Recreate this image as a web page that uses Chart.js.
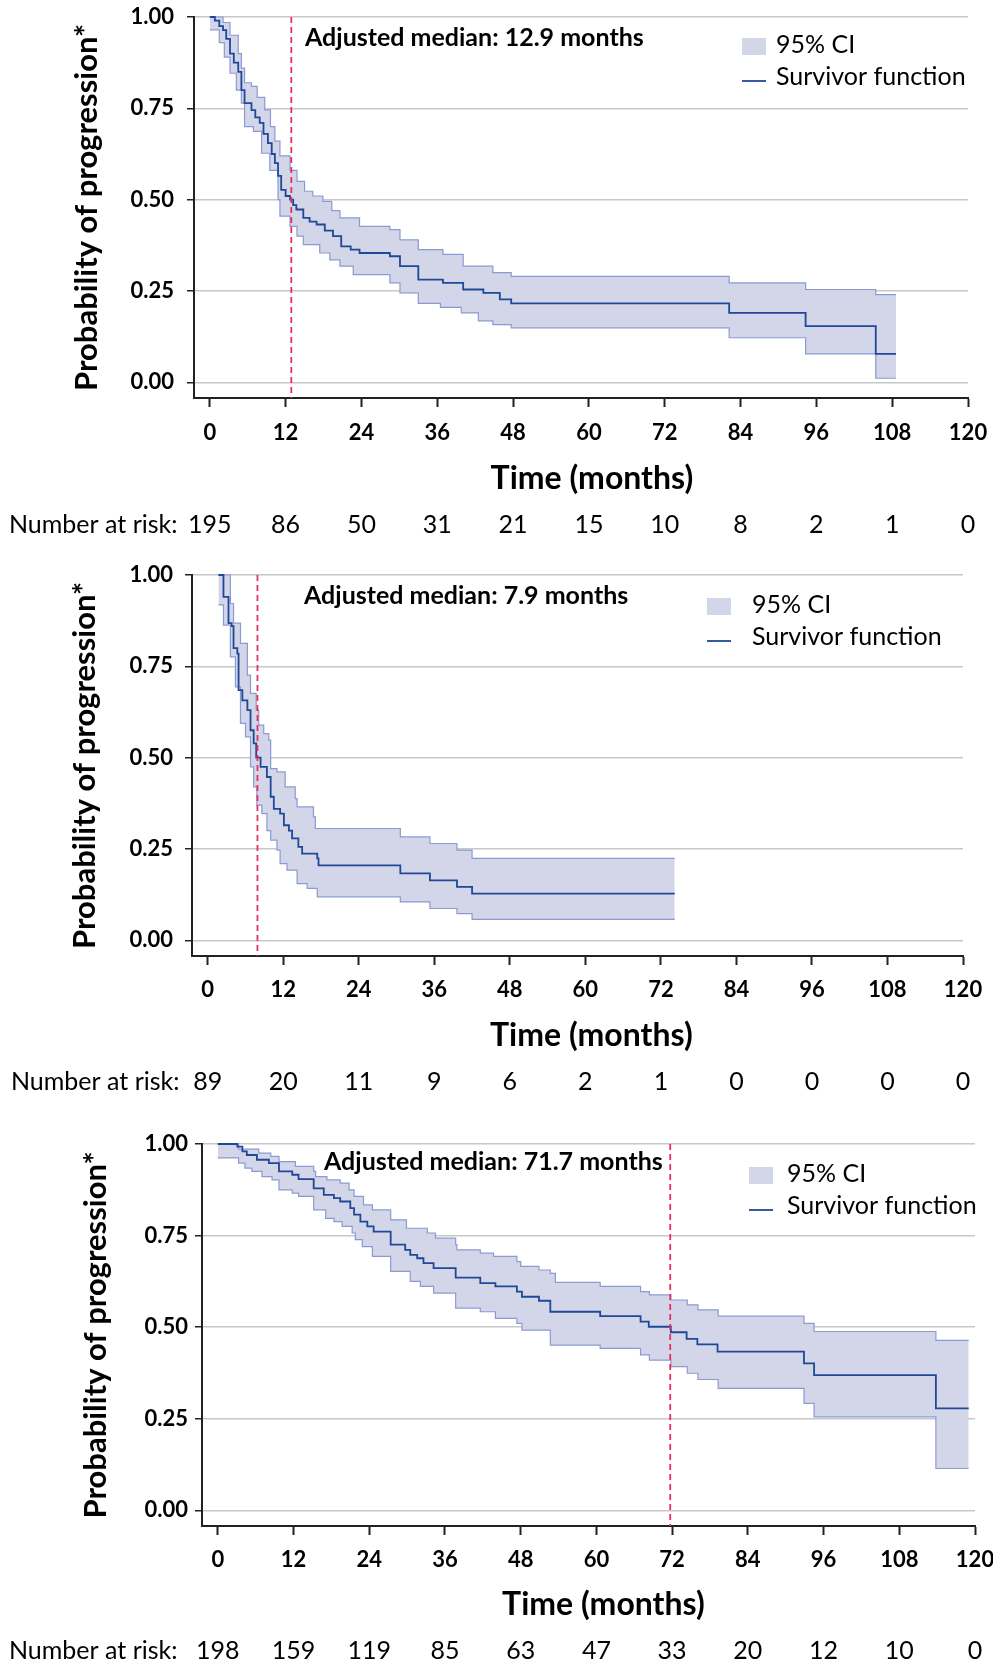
<!DOCTYPE html>
<html lang="en">
  <head>
    <meta charset="utf-8" />
    <title>Probability of progression - Kaplan-Meier</title>
    <style>
      * {
        margin: 0;
        padding: 0;
      }
      body {
        width: 993px;
        height: 1667px;
        background: #fff;
        position: relative;
        overflow: hidden;
      }
      canvas {
        position: absolute;
        left: 0;
        display: block;
      }
    </style>
  </head>
  <body>
    <canvas id="chartA" width="993" height="556" style="top: 0px"></canvas>
    <canvas id="chartB" width="993" height="556" style="top: 556px"></canvas>
    <canvas id="chartC" width="993" height="555" style="top: 1112px"></canvas>

    <script src="https://cdn.jsdelivr.net/npm/chart.js@4/dist/chart.umd.min.js"></script>

    <script>
      // axis ticks
      const timeTicks = [0, 12, 24, 36, 48, 60, 72, 84, 96, 108, 120];
      const probTicks = [0, 0.25, 0.5, 0.75, 1];

      // panel A: [months, probability] at each step
      const survA = [
        [0, 1.0], [0.8, 0.99], [1.5, 0.975], [2.1, 0.964], [2.6, 0.94], [3.2, 0.9], [3.8, 0.875],
        [4.5, 0.85], [5.0, 0.8], [5.5, 0.764], [6.6, 0.745], [7.2, 0.725], [7.9, 0.71], [8.5, 0.68],
        [9.2, 0.655], [9.8, 0.625], [10.3, 0.6], [10.8, 0.565], [11.3, 0.527], [12.0, 0.51],
        [12.7, 0.5], [13.2, 0.485], [13.7, 0.473], [14.8, 0.45], [15.8, 0.44], [16.9, 0.432],
        [18.2, 0.415], [19.5, 0.4], [20.8, 0.372], [22.3, 0.363], [23.7, 0.354], [28.5, 0.345],
        [30.1, 0.318], [33.0, 0.281], [36.9, 0.272], [40.1, 0.254], [43.3, 0.245], [45.9, 0.227],
        [47.7, 0.216], [82.2, 0.19], [94.3, 0.154], [105.4, 0.078], [108.6, 0.078],
      ];
      const upperA = [
        [0, 1.0], [2.1, 0.985], [3.2, 0.95], [4.5, 0.9], [5.0, 0.86], [5.5, 0.82], [6.6, 0.81],
        [7.5, 0.78], [8.7, 0.746], [9.6, 0.7], [10.3, 0.66], [11.1, 0.62], [12.7, 0.58],
        [13.8, 0.55], [15.0, 0.523], [16.3, 0.51], [17.9, 0.495], [19.3, 0.47], [20.6, 0.45],
        [23.7, 0.427], [28.5, 0.418], [30.1, 0.39], [33.0, 0.363], [36.9, 0.35], [40.1, 0.318],
        [44.8, 0.3], [47.7, 0.29], [82.2, 0.272], [94.3, 0.254], [105.4, 0.24], [108.6, 0.24],
      ];
      const lowerA = [
        [0, 0.965], [1.5, 0.93], [2.3, 0.89], [3.2, 0.846], [4.2, 0.8], [5.0, 0.764], [5.5, 0.7],
        [6.9, 0.687], [8.2, 0.627], [9.5, 0.58], [10.8, 0.5], [11.1, 0.455], [12.7, 0.427],
        [13.8, 0.4], [14.8, 0.377], [17.4, 0.354], [19.0, 0.335], [20.6, 0.318], [22.7, 0.295],
        [28.5, 0.272], [30.1, 0.245], [33.0, 0.216], [36.5, 0.205], [39.8, 0.19], [42.5, 0.168],
        [44.8, 0.158], [47.7, 0.149], [82.2, 0.122], [94.3, 0.078], [105.4, 0.011], [108.6, 0.011],
      ];
      const riskA = [195, 86, 50, 31, 21, 15, 10, 8, 2, 1, 0];
      const medianA = 12.9;

      // panel B
      const survB = [
        [1.7, 1.0], [2.5, 0.94], [3.3, 0.868], [3.8, 0.86], [4.1, 0.8], [4.7, 0.785], [4.9, 0.685],
        [5.5, 0.657], [6.3, 0.63], [6.8, 0.575], [7.3, 0.539], [7.7, 0.5], [8.4, 0.475],
        [9.4, 0.447], [10.0, 0.393], [10.5, 0.36], [11.5, 0.347], [12.1, 0.315], [12.9, 0.3],
        [13.4, 0.279], [14.4, 0.256], [15.0, 0.237], [17.4, 0.224], [17.6, 0.205], [30.6, 0.183],
        [35.3, 0.164], [39.6, 0.146], [42.0, 0.128], [74.2, 0.128],
      ];
      const upperB = [
        [1.7, 1.0], [3.6, 0.922], [4.1, 0.868], [5.2, 0.813], [6.3, 0.726], [6.8, 0.676],
        [7.7, 0.63], [8.1, 0.589], [8.9, 0.566], [9.7, 0.548], [10.0, 0.47], [11.0, 0.461],
        [12.3, 0.42], [13.9, 0.388], [14.2, 0.365], [16.8, 0.338], [17.1, 0.306], [30.6, 0.283],
        [35.3, 0.265], [39.6, 0.247], [42.0, 0.224], [74.2, 0.224],
      ];
      const lowerB = [
        [1.7, 0.918], [2.5, 0.863], [3.6, 0.776], [4.4, 0.694], [5.2, 0.594], [6.0, 0.557],
        [6.8, 0.475], [7.3, 0.42], [7.8, 0.37], [8.6, 0.347], [9.4, 0.3], [10.0, 0.274],
        [11.0, 0.247], [11.5, 0.21], [12.6, 0.192], [14.2, 0.155], [15.8, 0.142], [17.4, 0.119],
        [30.6, 0.105], [35.3, 0.087], [39.6, 0.073], [42.0, 0.057], [74.2, 0.057],
      ];
      const riskB = [89, 20, 11, 9, 6, 2, 1, 0, 0, 0, 0];
      const medianB = 7.9;

      // panel C
      const survC = [
        [0, 1.0], [3.1, 0.993], [3.9, 0.98], [4.6, 0.97], [6.2, 0.957], [8.1, 0.948], [9.7, 0.925],
        [11.8, 0.916], [12.8, 0.904], [15.2, 0.879], [16.8, 0.861], [18.4, 0.852], [19.4, 0.843],
        [21.0, 0.825], [21.6, 0.807], [22.6, 0.788], [23.7, 0.775], [24.7, 0.761], [27.4, 0.725],
        [29.7, 0.711], [30.5, 0.697], [31.6, 0.688], [32.6, 0.675], [34.2, 0.661], [37.7, 0.635],
        [41.6, 0.62], [44.0, 0.611], [47.4, 0.597], [48.2, 0.583], [50.9, 0.572], [52.7, 0.542],
        [60.6, 0.53], [67.0, 0.515], [68.3, 0.501], [71.8, 0.486], [74.3, 0.468], [76.0, 0.453],
        [79.2, 0.433], [92.9, 0.401], [94.5, 0.369], [113.8, 0.278], [119.0, 0.278],
      ];
      const upperC = [
        [0, 1.0], [3.3, 0.986], [6.5, 0.975], [8.4, 0.966], [9.7, 0.952], [12.3, 0.939],
        [15.2, 0.925], [15.5, 0.911], [17.3, 0.902], [19.4, 0.893], [20.8, 0.875], [21.6, 0.857],
        [23.1, 0.834], [24.5, 0.82], [27.4, 0.793], [29.9, 0.77], [33.2, 0.757], [34.5, 0.743],
        [37.7, 0.725], [37.9, 0.711], [41.6, 0.702], [43.7, 0.693], [47.4, 0.679], [48.0, 0.666],
        [50.9, 0.656], [52.7, 0.647], [53.5, 0.622], [60.6, 0.611], [67.0, 0.597], [68.4, 0.588],
        [71.8, 0.574], [74.4, 0.561], [76.1, 0.547], [79.3, 0.53], [92.9, 0.51], [94.5, 0.488],
        [113.8, 0.464], [119.0, 0.464],
      ];
      const lowerC = [
        [0, 0.962], [3.3, 0.948], [4.3, 0.934], [5.4, 0.925], [7.0, 0.911], [8.6, 0.902],
        [9.7, 0.875], [11.8, 0.866], [12.8, 0.857], [15.2, 0.82], [17.1, 0.797], [18.4, 0.788],
        [19.7, 0.775], [21.3, 0.757], [21.8, 0.739], [22.9, 0.72], [24.5, 0.693], [27.4, 0.652],
        [30.5, 0.625], [32.1, 0.611], [34.2, 0.593], [37.7, 0.552], [41.6, 0.542], [44.0, 0.524],
        [47.4, 0.51], [48.2, 0.492], [52.7, 0.451], [60.6, 0.442], [67.0, 0.424], [68.4, 0.41],
        [71.8, 0.392], [74.4, 0.374], [76.1, 0.357], [79.3, 0.333], [92.9, 0.292], [94.5, 0.255],
        [113.8, 0.114], [119.0, 0.114],
      ];
      const riskC = [198, 159, 119, 85, 63, 47, 33, 20, 12, 10, 0];
      const medianC = 71.7;

      // colours and fonts
      const bandFill = "rgb(211, 214, 233)";
      const bandLine = "rgb(140, 154, 210)";
      const survLine = "rgb(31, 72, 152)";
      const medianColor = "rgb(232, 45, 95)";
      const FONT = "Lato";
      const tickFont = { family: FONT, weight: "bold", size: 22 };
      const yTitleFont = { family: FONT, weight: "bold", size: 31 };
      const xTitleSize = 32;
      const textSize = 25;

      const toXY = (pts) => pts.map(([x, y]) => ({ x, y }));

      // median line, x title, note, legend and number-at-risk row
      const kmExtras = (p) => ({
        id: "kmExtras",
        afterDatasetsDraw(chart) {
          const { ctx, chartArea, scales } = chart;
          const px = scales.x.getPixelForValue(p.median);
          ctx.save();
          ctx.strokeStyle = medianColor;
          ctx.lineWidth = 1.8;
          ctx.setLineDash([6, 4]);
          ctx.beginPath();
          ctx.moveTo(px, chartArea.top);
          ctx.lineTo(px, chartArea.bottom);
          ctx.stroke();
          ctx.restore();
        },
        afterDraw(chart) {
          const { ctx, chartArea, scales } = chart;
          const lg = p.legend;
          ctx.save();
          ctx.textBaseline = "middle";
          ctx.fillStyle = "#000";

          // x axis title, centred on the 0-120 tick range
          ctx.textAlign = "center";
          ctx.font = `bold ${xTitleSize}px ${FONT}`;
          ctx.fillText(
            "Time (months)",
            scales.x.getPixelForValue(60) + p.xTitleShift,
            chartArea.bottom + p.xTitleGap
          );

          ctx.textAlign = "left";
          ctx.font = `bold ${textSize}px ${FONT}`;
          ctx.fillText(`Adjusted median: ${p.median} months`, p.noteX, p.noteY);

          ctx.fillStyle = bandFill;
          ctx.fillRect(lg.x, lg.y, 24, 17);
          ctx.strokeStyle = survLine;
          ctx.lineWidth = 1.8;
          ctx.beginPath();
          ctx.moveTo(lg.x, lg.y + 43);
          ctx.lineTo(lg.x + 24, lg.y + 43);
          ctx.stroke();
          ctx.fillStyle = "#000";
          ctx.font = `${textSize}px ${FONT}`;
          ctx.fillText("95% CI", lg.textX, lg.y + 7);
          ctx.fillText("Survivor function", lg.textX, lg.y + 39);

          ctx.fillText("Number at risk:", p.riskX, p.riskY);
          ctx.textAlign = "center";
          p.risk.forEach((n, i) => {
            ctx.fillText(String(n), scales.x.getPixelForValue(timeTicks[i]), p.riskY);
          });
          ctx.restore();
        },
      });

      const makeChart = (id, p) => {
        const H = p.height;

        // survivor line first so it is drawn on top of the band
        const data = {
          datasets: [
            {
              data: toXY(p.surv),
              borderColor: survLine,
              borderWidth: 1.8,
              fill: false,
            },
            {
              data: toXY(p.upper),
              borderColor: bandLine,
              borderWidth: 1.2,
              fill: false,
            },
            {
              data: toXY(p.lower),
              borderColor: bandLine,
              borderWidth: 1.2,
              backgroundColor: bandFill,
              fill: "-1",
            },
          ],
        };

        const config = {
          type: "line",
          data: data,
          options: {
            responsive: false,
            animation: false,
            events: [],
            clip: false,
            elements: {
              point: { radius: 0 },
              line: { stepped: "before", tension: 0 },
            },
            layout: {
              padding: { left: 0, top: p.area.top, right: 993 - p.area.right, bottom: 0 },
            },
            plugins: {
              legend: { display: false },
              tooltip: { enabled: false },
            },
            scales: {
              x: {
                type: "linear",
                min: -2.5,
                max: 120,
                afterBuildTicks: (s) => {
                  s.ticks = timeTicks.map((v) => ({ value: v }));
                },
                afterFit: (s) => {
                  s.height = H - p.area.bottom;
                  s.paddingLeft = 0;
                  s.paddingRight = 0;
                },
                border: { color: "#222", width: 2 },
                grid: {
                  drawOnChartArea: false,
                  drawTicks: true,
                  tickLength: 9,
                  tickColor: "#222",
                  tickWidth: 2,
                },
                ticks: {
                  font: tickFont,
                  color: "#000",
                  padding: p.xTickGap - 9 - (tickFont.size * 1.2) / 2,
                  maxRotation: 0,
                  autoSkip: false,
                },
              },
              y: {
                min: -0.043,
                max: 1,
                afterBuildTicks: (s) => {
                  s.ticks = probTicks.map((v) => ({ value: v }));
                },
                afterFit: (s) => {
                  s.width = p.area.left;
                  s.paddingTop = 0;
                  s.paddingBottom = 0;
                },
                border: { color: "#222", width: 2 },
                grid: {
                  color: "#c8c8c8",
                  lineWidth: 1.5,
                  tickColor: "#222",
                  tickWidth: 1.5,
                  tickLength: 7,
                },
                ticks: {
                  font: tickFont,
                  color: "#000",
                  padding: p.yTickGap - 7,
                  callback: (v) => v.toFixed(2),
                },
                title: {
                  display: true,
                  text: "Probability of progression*",
                  font: yTitleFont,
                  color: "#000",
                  padding: { top: p.yTitleX - (yTitleFont.size * 1.2) / 2, bottom: 0 },
                },
              },
            },
          },
          plugins: [kmExtras(p)],
        };

        return new Chart(document.getElementById(id), config);
      };

      makeChart("chartA", {
        height: 556,
        area: { left: 194, right: 968, top: 17, bottom: 398 },
        xTickGap: 35, xTitleGap: 81, xTitleShift: 3, yTickGap: 20, yTitleX: 87,
        surv: survA, upper: upperA, lower: lowerA, risk: riskA, median: medianA,
        noteX: 305, noteY: 38,
        legend: { x: 742, y: 38, textX: 776 },
        riskX: 9, riskY: 525,
      });

      makeChart("chartB", {
        height: 556,
        area: { left: 192, right: 963, top: 19, bottom: 400 },
        xTickGap: 34, xTitleGap: 80, xTitleShift: 6, yTickGap: 19, yTitleX: 85,
        surv: survB, upper: upperB, lower: lowerB, risk: riskB, median: medianB,
        noteX: 304, noteY: 40,
        legend: { x: 707, y: 42, textX: 752 },
        riskX: 11, riskY: 526,
      });

      makeChart("chartC", {
        height: 555,
        area: { left: 202, right: 975, top: 32, bottom: 414 },
        xTickGap: 34, xTitleGap: 79, xTitleShift: 7, yTickGap: 14, yTitleX: 96,
        surv: survC, upper: upperC, lower: lowerC, risk: riskC, median: medianC,
        noteX: 324, noteY: 50,
        legend: { x: 749, y: 55, textX: 787 },
        riskX: 9, riskY: 539,
      });
    </script>
  </body>
</html>
